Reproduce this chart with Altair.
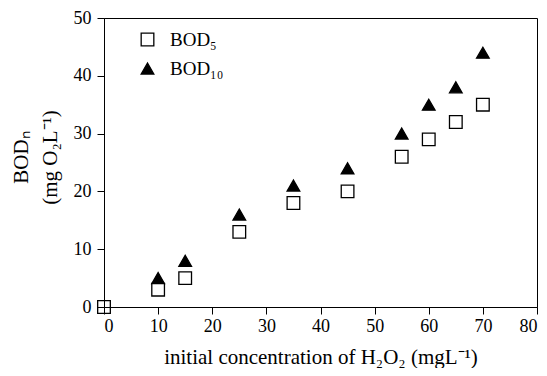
import altair as alt
import pandas as pd

x_bod5 = [0, 10, 15, 25, 35, 45, 55, 60, 65, 70]
y_bod5 = [0, 3, 5, 13, 18, 20, 26, 29, 32, 35]
x_bod10 = [10, 15, 25, 35, 45, 55, 60, 65, 70]
y_bod10 = [5, 8, 16, 21, 24, 30, 35, 38, 44]
series_names = ["BOD\u2085", "BOD\u2081\u2080"]

rows = [{"x": a, "y": b, "s": series_names[0]} for a, b in zip(x_bod5, y_bod5)]
rows += [{"x": a, "y": b, "s": series_names[1]} for a, b in zip(x_bod10, y_bod10)]
df = pd.DataFrame(rows)

font = "Liberation Serif"

def make_legend():
    return alt.Legend(
        title=None, orient="none", legendX=34, legendY=12,
        labelFont=font, labelFontSize=19, labelColor="black", symbolSize=160,
        rowPadding=9, labelOffset=13, padding=0,
        symbolStrokeWidth=1.3,
    )

chart = alt.Chart(df).mark_point(size=160, strokeWidth=1.3, opacity=1).encode(
    x=alt.X("x:Q", scale=alt.Scale(domain=[0, 80], nice=False),
            axis=alt.Axis(values=list(range(0, 81, 10)),
                          title="initial concentration of H\u2082O\u2082 (mgL\u207b\u00b9)")),
    y=alt.Y("y:Q", scale=alt.Scale(domain=[0, 50], nice=False),
            axis=alt.Axis(values=list(range(0, 51, 10)), titleY=139, titleLineHeight=29,
                          title=["BOD\u2099", "(mg O\u2082L\u207b\u00b9)"])),
    shape=alt.Shape("s:N", scale=alt.Scale(domain=series_names, range=["square", "triangle-up"]),
                    legend=make_legend()),
    fill=alt.Fill("s:N", scale=alt.Scale(domain=series_names, range=["transparent", "black"]),
                  legend=make_legend()),
    stroke=alt.Stroke("s:N", scale=alt.Scale(domain=series_names, range=["black", "black"]),
                      legend=make_legend()),
).properties(
    width=433, height=289,
    autosize=alt.AutoSizeParams(type="none"),
    padding={"left": 96, "top": 10, "right": 2, "bottom": 61},
).configure_view(
    stroke="black", strokeWidth=1
).configure_axis(
    grid=False, domainColor="black", tickColor="black", tickSize=7,
    labelFont=font, labelFontSize=18, labelColor="black",
    titleFont=font, titleFontSize=21, titleColor="black", titleFontWeight="normal",
).configure_axisX(
    labelPadding=3, titlePadding=11
).configure_axisY(
    labelPadding=6, titlePadding=13
)

chart.save("out.html", embed_options={"renderer": "svg", "actions": False})
